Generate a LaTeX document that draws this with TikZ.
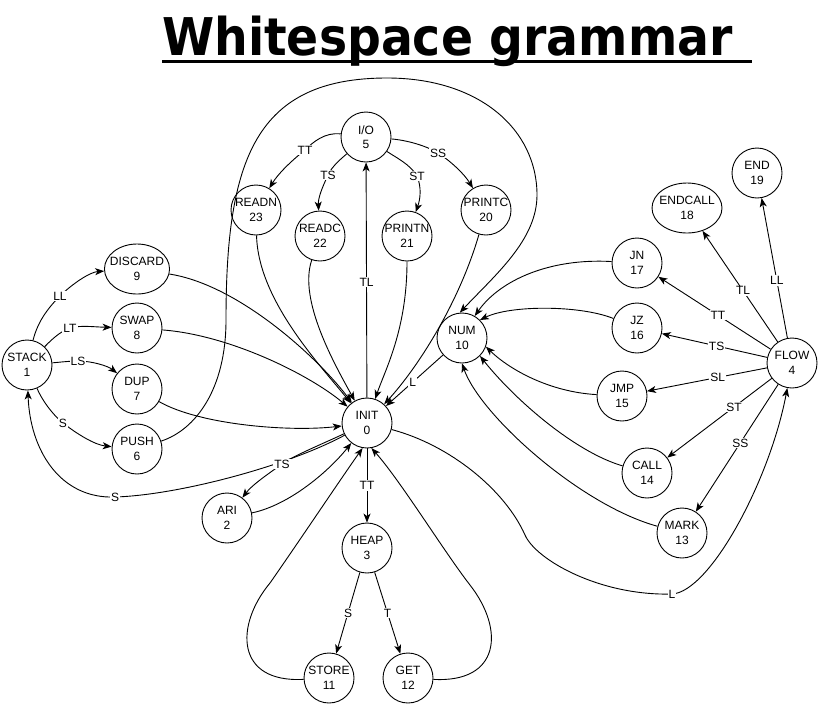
\documentclass[tikz,border=0pt]{standalone}
\usepackage{fontspec}
\setmainfont{Liberation Sans}
\newfontfamily\titlefont{DejaVu Sans}[FakeStretch=0.91]
\usetikzlibrary{arrows.meta,shapes.geometric}
\begin{document}
\begin{tikzpicture}[x=1pt,y=-1pt,
  st/.style={circle,draw,line width=0.9pt,minimum size=50pt,inner sep=-3pt,align=center,font=\fontsize{12}{14.5}\selectfont},
  el/.style={ellipse,draw,line width=0.9pt,inner sep=-4pt,minimum height=50pt,align=center,font=\fontsize{12}{14.5}\selectfont},
  lbl/.style={fill=white,inner sep=1pt,font=\fontsize{12}{14}\selectfont},
  ar/.style={-{Stealth[length=9pt,width=7pt,inset=2.5pt]},line width=0.9pt},
  ln/.style={line width=0.9pt}]
\useasboundingbox (0,0) rectangle (818,705);
% title
\node[anchor=base west,inner sep=0pt,font=\titlefont\bfseries\fontsize{52}{60}\selectfont] (title) at (162,55) {Whitespace grammar};
\draw[line width=3.5pt] (162,61.5) -- (752,61.5);
% nodes
\node[st] (io) at (366,137) {I/O\\5};
\node[st] (readn) at (256,210) {READN\\23};
\node[st] (readc) at (320,236) {READC\\22};
\node[st] (printn) at (407,236) {PRINTN\\21};
\node[st] (printc) at (486,210) {PRINTC\\20};
\node[el,minimum width=65pt] (discard) at (137,269) {DISCARD\\9};
\node[st] (swap) at (137,328) {SWAP\\8};
\node[st] (dup) at (137,389) {DUP\\7};
\node[st] (push) at (137,449) {PUSH\\6};
\node[st] (stack) at (27,365) {STACK\\1};
\node[st] (init) at (367,423) {INIT\\0};
\node[st] (ari) at (227,518) {ARI\\2};
\node[st] (heap) at (367,548) {HEAP\\3};
\node[st] (store) at (329,678) {STORE\\11};
\node[st] (get) at (408,678) {GET\\12};
\node[st] (num) at (462,338) {NUM\\10};
\node[st] (jn) at (637,263) {JN\\17};
\node[st] (jz) at (637,328) {JZ\\16};
\node[st] (jmp) at (622,396) {JMP\\15};
\node[st] (flow) at (792,363) {FLOW\\4};
\node[st] (endn) at (757,173) {END\\19};
\node[el,minimum width=70pt] (endcall) at (687,208) {ENDCALL\\18};
\node[st] (call) at (647,473) {CALL\\14};
\node[st] (mark) at (682,533) {MARK\\13};
% stack edges
\draw[ar] (stack) .. controls (38,320) and (50,306) .. (60,296) node[lbl] {LL} .. controls (72,284) and (90,272) .. (discard);
\draw[ar] (stack) .. controls (55,336) and (62,331) .. (70,328) node[lbl] {LT} .. controls (80,325) and (95,327) .. (swap);
\draw[ar] (stack) .. controls (62,362) and (70,361) .. (78,361) node[lbl] {LS} .. controls (92,361) and (108,366) .. (dup);
\draw[ar] (stack) .. controls (42,400) and (52,414) .. (63,423) node[lbl] {S} .. controls (77,434) and (95,445) .. (push);
\draw[ar] (init) .. controls (290,465) and (180,495) .. (115,497) node[lbl] {S} .. controls (60,499) and (30,450) .. (stack);
% into init
\draw[ar] (discard) .. controls (240,285) and (320,360) .. (init);
\draw[ar] (swap) .. controls (230,335) and (310,375) .. (init);
\draw[ar] (dup) .. controls (200,425) and (290,432) .. (init);
\draw[ar] (readn) .. controls (258,300) and (320,365) .. (init);
\draw[ar] (readc) .. controls (298,300) and (335,365) .. (init);
\draw[ar] (printn) .. controls (407,330) and (385,370) .. (init);
\draw[ar] (printc) .. controls (460,300) and (420,365) .. (init);
\draw[ar] (num) -- node[lbl,pos=0.53] {L} (init);
% ari
\draw[ar] (init) .. controls (320,445) and (295,455) .. (282,464) node[lbl] {TS} .. controls (268,474) and (252,485) .. (ari);
\draw[ar] (ari) .. controls (290,505) and (330,470) .. (init);
% heap
\draw[ar] (init) -- node[lbl] {TT} (heap);
\draw[ar] (heap) -- node[lbl] {S} (store);
\draw[ar] (heap) -- node[lbl] {T} (get);
\draw[ar] (store) .. controls (235,683) and (235,625) .. (270,583) .. controls (300,540) and (340,480) .. (init.-100);
\draw[ar] (get) .. controls (500,683) and (505,630) .. (470,585) .. controls (445,553) and (400,480) .. (init.-80);
% io
\draw[ar] (init) -- node[lbl,pos=0.49] {TL} (io);
\draw[ar] (io) .. controls (325,132) and (313,142) .. (305,150) node[lbl] {TT} .. controls (290,162) and (278,174) .. (readn);
\draw[ar] (io) .. controls (342,158) and (332,166) .. (328,175) node[lbl] {TS} .. controls (322,188) and (318,198) .. (readc);
\draw[ar] (io) .. controls (395,157) and (410,164) .. (417,176) node[lbl] {ST} .. controls (422,188) and (420,200) .. (printn);
\draw[ar] (io) .. controls (405,140) and (425,145) .. (438,153) node[lbl] {SS} .. controls (452,162) and (465,175) .. (printc);
% push -> num big loop
\draw[ar] (push) .. controls (195,430) and (226,390) .. (226,320) .. controls (226,160) and (255,78) .. (387,78) .. controls (480,78) and (537,130) .. (537,195) .. controls (537,240) and (495,275) .. (num.95);
% into num
\draw[ar] (jn) .. controls (550,258) and (500,280) .. (num.60);
\draw[ar] (jz) .. controls (580,305) and (510,305) .. (num.45);
\draw[ar] (jmp) .. controls (550,392) and (510,370) .. (num.-20);
\draw[ar] (call) .. controls (575,452) and (515,400) .. (num.-45);
\draw[ar] (mark) .. controls (580,505) and (480,415) .. (num.-90);
% flow
\draw[ar] (init) .. controls (450,445) and (505,490) .. (525,535) .. controls (536,560) and (600,596) .. (672,594) node[lbl] {L} .. controls (710,592) and (770,480) .. (flow);
\draw[ar] (flow) -- node[lbl,pos=0.41] {LL} (endn);
\draw[ar] (flow) -- node[lbl,pos=0.46] {TL} (endcall);
\draw[ar] (flow) -- node[lbl,pos=0.47] {TT} (jn);
\draw[ar] (flow) -- node[lbl,pos=0.48] {TS} (jz);
\draw[ar] (flow) -- node[lbl,pos=0.41] {SL} (jmp);
\draw[ar] (flow) -- node[lbl,pos=0.36] {ST} (call);
\draw[ar] (flow) -- node[lbl,pos=0.46] {SS} (mark);
\end{tikzpicture}
\end{document}
